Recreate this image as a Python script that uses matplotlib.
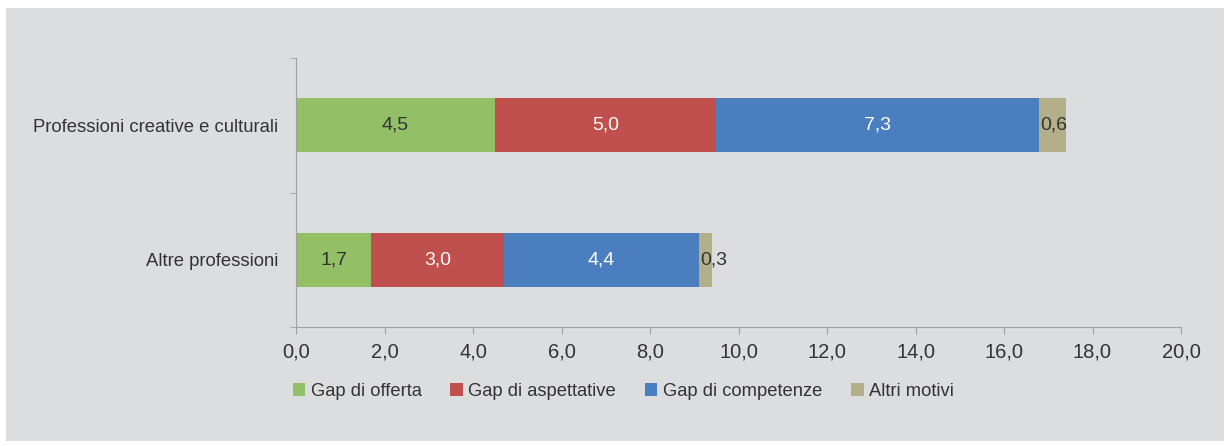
import matplotlib
matplotlib.use("Agg")
import matplotlib.pyplot as plt
from matplotlib.patches import Rectangle

categories = ["Altre professioni", "Professioni creative e culturali"]
series_names = ["Gap di offerta", "Gap di aspettative", "Gap di competenze", "Altri motivi"]
gap_offerta = [1.7, 4.5]
gap_aspettative = [3.0, 5.0]
gap_competenze = [4.4, 7.3]
altri_motivi = [0.3, 0.6]
xticks = [0, 2, 4, 6, 8, 10, 12, 14, 16, 18, 20]

colors = ["#93bf66", "#c0504d", "#4a7ebf", "#b3b089"]
label_colors = ["#333333", "white", "white", "#333333"]
bg = "#dcdddf"

plt.rcParams['font.family'] = ['Liberation Sans', 'DejaVu Sans']

fig = plt.figure(figsize=(12.27, 4.46), dpi=100)
W, H = 1227, 446
fig.patches.append(Rectangle((6 / W, 1 - 441 / H), (1224 - 6) / W, (441 - 8) / H,
                             transform=fig.transFigure, facecolor=bg, edgecolor="none", zorder=-10))

ax = fig.add_axes([296 / W, 1 - 327 / H, (1181 - 296) / W, (327 - 58) / H])
ax.set_facecolor(bg)

series = [gap_offerta, gap_aspettative, gap_competenze, altri_motivi]
ypos = [0, 1]
left = [0.0, 0.0]
for k, (vals, name, c, lc) in enumerate(zip(series, series_names, colors, label_colors)):
    bars = ax.barh(ypos, vals, left=left, height=0.4, color=c, label=name, zorder=2)
    for i, v in enumerate(vals):
        txt = f"{v:.1f}".replace(".", ",")
        if k == len(series) - 1:
            ax.text(left[i] + 0.03, ypos[i], txt, ha="left", va="center",
                    color=lc, fontsize=14, zorder=3)
        else:
            ax.text(left[i] + v / 2, ypos[i], txt, ha="center", va="center",
                    color=lc, fontsize=14, zorder=3)
    left = [l + v for l, v in zip(left, vals)]

ax.set_xlim(0, 20)
ax.set_ylim(-0.5, 1.5)
ax.set_xticks(xticks)
ax.set_xticklabels([f"{t:.1f}".replace(".", ",") for t in xticks], fontsize=14.5, color="#333333")
ax.set_yticks(ypos)
ax.set_yticklabels(categories, fontsize=13.3, color="#333333")
ax.set_yticks([-0.5, 0.5, 1.5], minor=True)
ax.tick_params(axis="y", which="major", length=0, pad=13)
ax.tick_params(axis="y", which="minor", length=4, color="#a0a0a0", direction="out")
ax.tick_params(axis="x", length=5, color="#a0a0a0", pad=6.5)
for s in ["top", "right"]:
    ax.spines[s].set_visible(False)
for s in ["left", "bottom"]:
    ax.spines[s].set_color("#a0a0a0")

handles, labels = ax.get_legend_handles_labels()
leg = fig.legend(handles, labels, loc="center left", bbox_to_anchor=(276 / W, 1 - 391 / H),
                 ncol=4, frameon=False, fontsize=13.2, handlelength=0.7, handleheight=0.7,
                 handletextpad=0.3, columnspacing=1.55, labelcolor="#333333")

fig.savefig("out.png", dpi=100, facecolor="white")
